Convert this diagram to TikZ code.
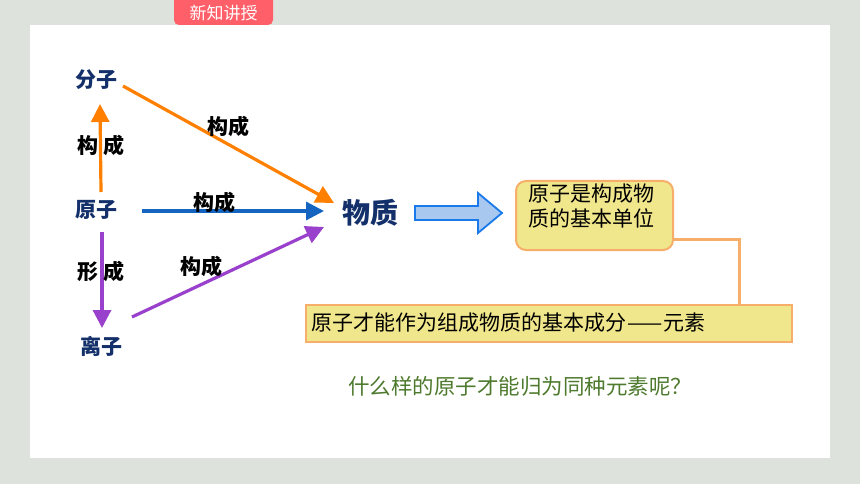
\documentclass[tikz,border=0pt]{standalone}
\usepackage{fontspec}
\usetikzlibrary{arrows.meta}
\newfontfamily\cjk{Noto Sans CJK SC}
\definecolor{bgc}{HTML}{DDE3DC}
\definecolor{tabc}{HTML}{FF5F68}
\definecolor{navy}{HTML}{14306A}
\definecolor{orng}{HTML}{FF8000}
\definecolor{blu}{HTML}{1464C0}
\definecolor{purp}{HTML}{9940CC}
\definecolor{khaki}{HTML}{F0E68C}
\definecolor{bord}{HTML}{F7AE6A}
\definecolor{afill}{HTML}{A8C8F0}
\definecolor{adraw}{HTML}{1A7AEA}
\definecolor{grn}{HTML}{4E7A2E}
\begin{document}
\begin{tikzpicture}[x=1pt,y=-1pt,
  lbl/.style={font=\cjk\bfseries\fontsize{21}{21}\selectfont, text=black, inner sep=0},
  ion/.style={font=\cjk\bfseries\fontsize{21}{21}\selectfont, text=navy, inner sep=0},
  arr/.style={line width=3.2pt, -{Triangle[length=18pt,width=18pt]}},
  boxtxt/.style={font=\cjk\fontsize{21}{25}\selectfont, text=black},
]
\useasboundingbox (0,0) rectangle (860,484);
\fill[bgc] (0,0) rectangle (860,484);
\fill[white] (30,25) rectangle (830,458);
\fill[tabc, rounded corners=5pt] (174,-10) rectangle (273,25);
\node[font=\cjk\fontsize{17}{17}\selectfont, text=white] (tab) at (223.5,13) {新知讲授};

\node[ion] (fenzi) at (96,80) {分子};
\node[ion] (yuanzi) at (96,210) {原子};
\node[ion] (lizi) at (101,346) {离子};
\node[font=\cjk\bfseries\fontsize{28}{28}\selectfont, text=navy, inner sep=0] (wuzhi) at (370,213) {物质};

\coordinate (a1s) at (101,192); \coordinate (a1e) at (100,104);
\coordinate (a2s) at (123,86);  \coordinate (a2e) at (334,203);
\coordinate (a3s) at (142,211); \coordinate (a3e) at (324,211);
\coordinate (a4s) at (102,232); \coordinate (a4e) at (102,328);
\coordinate (a5s) at (132,317); \coordinate (a5e) at (324,227);

\draw[arr, orng] (a1s) -- (a1e);
\draw[arr, orng] (a2s) -- (a2e);
\draw[arr, blu] (a3s) -- (a3e);
\draw[arr, purp] (a4s) -- (a4e);
\draw[arr, purp] (a5s) -- (a5e);

\node[lbl] (l1) at (101,145) {构\hspace{5pt}成};
\node[lbl] (l2) at (228,127) {构成};
\node[lbl] (l3) at (214,202) {构成};
\node[lbl] (l4) at (101,271) {形\hspace{5pt}成};
\node[lbl] (l5) at (201,266) {构成};

\draw[adraw, fill=afill, line width=1.8pt, line join=miter]
  (415,206) -- (478,206) -- (478,193) -- (502,213) -- (478,233) -- (478,220) -- (415,220) -- cycle;

\draw[bord, fill=khaki, line width=2pt, rounded corners=10pt] (516,181) rectangle (673,250);
\node[boxtxt, anchor=north west, align=left, inner sep=0] (b1) at (528,184)
  {原子是构成物\\质的基本单位};
\draw[bord, fill=khaki, line width=2pt] (306,305) rectangle (792,342);
\node[boxtxt, anchor=west, inner sep=0] (b2) at (311,323)
  {原子才能作为组成物质的基本成分\hspace{1pt}——\hspace{1pt}元素};
\coordinate (c1) at (674,239);
\coordinate (c2) at (739,305);
\draw[bord, line width=3pt] (c1) -- (c1 -| c2) -- (c2);

\node[font=\cjk\fontsize{21.5}{21.5}\selectfont, text=grn] (q) at (520,386)
  {什么样的原子才能归为同种元素呢？};
\end{tikzpicture}
\end{document}
